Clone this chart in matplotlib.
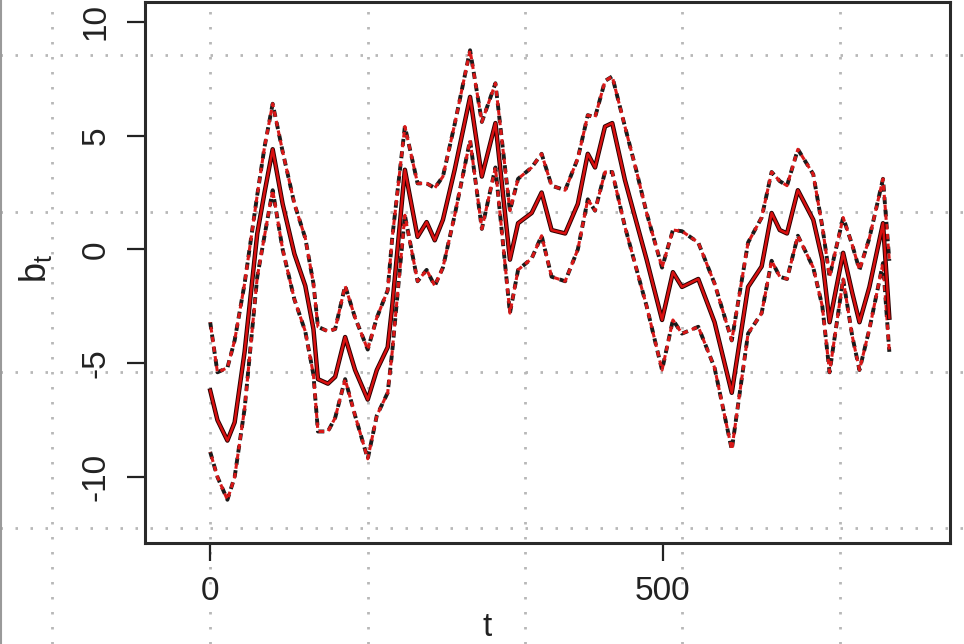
import matplotlib
matplotlib.use("Agg")
import matplotlib.pyplot as plt
from matplotlib.lines import Line2D

plt.rcParams['font.family'] = ['Liberation Sans', 'DejaVu Sans']
plt.rcParams['mathtext.fontset'] = 'custom'
plt.rcParams['mathtext.rm'] = 'Liberation Sans'

# time points and posterior summaries of b_t
t = [0, 8, 19, 27, 38, 52, 60, 69, 80, 93, 105, 114, 119, 130, 138, 149,
     160, 174, 184, 196, 201, 215, 229, 239, 248, 257, 270, 287, 300, 315,
     331, 340, 355, 366, 377, 392, 406, 417, 425, 436, 444, 458, 471, 482,
     499, 511, 521, 539, 557, 576, 594, 609, 620, 629, 637, 649, 666, 676,
     684, 699, 709, 717, 728, 743, 750]

b_mean = [-6.2, -7.5, -8.4, -7.6, -4.5, 0.7, 2.5, 4.4, 2.0, -0.2, -1.6, -3.5,
          -5.7, -5.9, -5.6, -3.85, -5.3, -6.6, -5.3, -4.3, -2.5, 3.5, 0.55,
          1.2, 0.4, 1.3, 3.5, 6.7, 3.2, 5.55, -0.45, 1.15, 1.6, 2.5, 0.85,
          0.7, 2.0, 4.2, 3.6, 5.4, 5.55, 3.05, 1.15, -0.45, -3.1, -1.0,
          -1.65, -1.3, -3.2, -6.3, -1.65, -0.75, 1.6, 0.85, 0.7, 2.6, 1.3,
          -0.45, -3.2, -0.15, -1.9, -3.2, -1.65, 1.15, -3.0]

b_upper = [-3.2, -5.4, -5.2, -4.0, -1.5, 2.4, 4.5, 6.4, 4.3, 2.0, 0.5, -1.5,
           -3.4, -3.6, -3.5, -1.6, -3.0, -4.4, -3.0, -1.8, 0.5, 5.4, 2.9,
           2.9, 2.7, 3.2, 5.5, 8.75, 5.6, 7.3, 1.7, 3.1, 3.6, 4.2, 2.8,
           2.6, 4.0, 5.9, 5.8, 7.4, 7.6, 5.4, 3.4, 1.6, -0.8, 0.85,
           0.8, 0.3, -1.5, -4.0, 0.3, 1.4, 3.4, 3.0, 2.8, 4.4, 3.3,
           1.0, -1.2, 1.4, 0.2, -0.9, 0.5, 3.1, -0.5]

b_lower = [-8.9, -10.0, -11.0, -10.0, -7.0, -1.2, 0.6, 2.6, 0.0, -2.2, -3.6,
           -5.5, -8.0, -8.0, -7.4, -5.7, -7.3, -9.2, -7.3, -6.3, -4.5, 1.5,
           -1.4, -0.9, -1.6, -0.8, 1.5, 4.8, 0.9, 3.6, -2.8, -0.9, -0.4,
           0.6, -1.2, -1.4, 0.0, 2.2, 1.7, 3.4, 3.4, 1.0, -0.9, -2.5,
           -5.3, -3.1, -3.7, -3.4, -5.2, -8.8, -3.7, -2.8, -0.5, -1.2, -1.3,
           0.6, -0.8, -2.5, -5.4, -1.3, -3.8, -5.3, -3.5, -0.6, -4.5]

x_ticks = [0, 500]
y_ticks = [-10, -5, 0, 5, 10]

W, H = 964, 644
fig = plt.figure(figsize=(W / 100, H / 100), dpi=100)
fig.patch.set_facecolor("white")

# dotted background grid of the page (figure pixels)
grid_x = [52, 210, 368, 525, 682, 840]
grid_y = [55, 212, 372, 528]
dots = (0, (0.9, 4.5))
for gx in grid_x:
    fig.add_artist(Line2D([gx / W, gx / W], [0, 1], transform=fig.transFigure,
                          color="#b8b8b8", lw=2.0, ls=dots, zorder=-5))
for gy in grid_y:
    fig.add_artist(Line2D([0, 1], [1 - gy / H, 1 - gy / H], transform=fig.transFigure,
                          color="#b8b8b8", lw=2.0, ls=dots, zorder=-5))
fig.add_artist(Line2D([0.001, 0.001], [0, 1], transform=fig.transFigure,
                      color="#9a9a9a", lw=1.5, zorder=-4))

ax = fig.add_axes([145 / W, 1 - 543 / H, (950 - 145) / W, (543 - 2) / H])
ax.set_facecolor("none")

# credible bands: black and red dashes interleaved
for band in (b_upper, b_lower):
    ax.plot(t, band, color="#1a1a1a", lw=2.8, ls=(0, (1.8, 1.4)))
    ax.plot(t, band, color="#d81818", lw=2.2, ls=(1.6, (1.8, 1.4)))

# posterior mean
ax.plot(t, b_mean, color="#2a0000", lw=3.2)
ax.plot(t, b_mean, color="#d81010", lw=1.8)

ax.set_xlim(-72, 817)
ax.set_ylim(-12.9, 10.87)
ax.set_xticks(x_ticks)
ax.set_yticks(y_ticks)
ax.set_yticklabels([str(v) for v in y_ticks], rotation=90, va="center")
ax.tick_params(axis="both", labelsize=24, length=13, width=1.6,
               color="#222222", labelcolor="#222222", pad=11)

for s in ax.spines.values():
    s.set_linewidth(2.2)
    s.set_color("#2a2a2a")

fig.text(35 / W, 1 - 268 / H, r"$\mathregular{b_t}$", rotation=90,
         ha="center", va="center", fontsize=26, color="#222222")
fig.text(487 / W, 1 - 627 / H, "t", ha="center", va="center",
         fontsize=24, color="#222222")

fig.savefig("out.png", dpi=100)
